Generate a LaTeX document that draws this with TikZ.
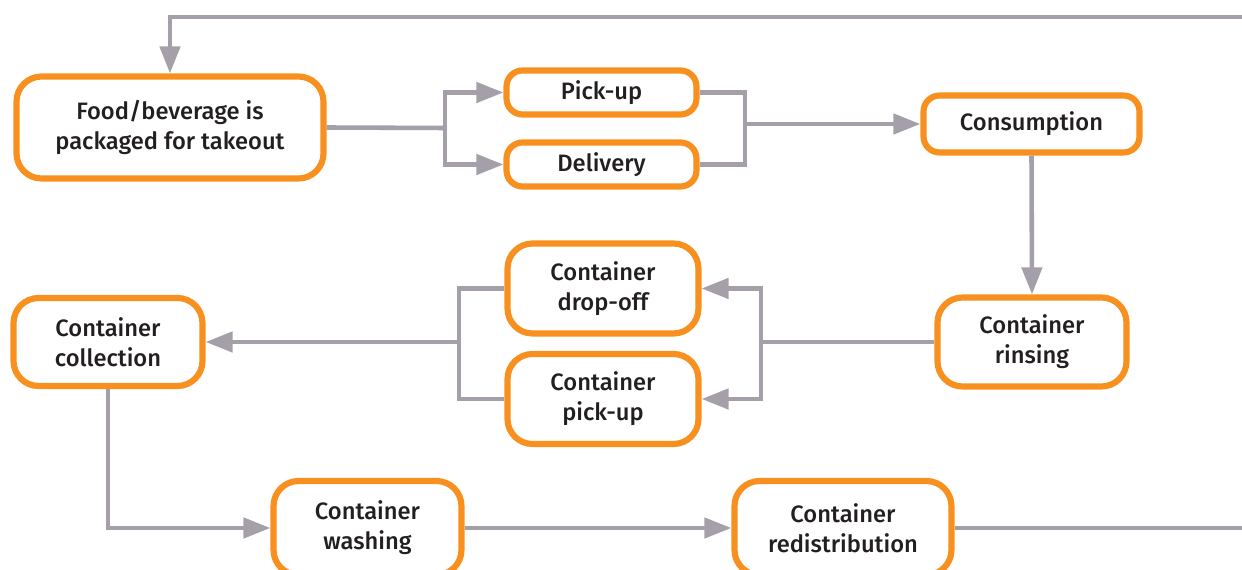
\documentclass[tikz,border=0pt]{standalone}
\usepackage{fontspec}
\setmainfont{Fira Sans}[UprightFont={* Medium}]
\usetikzlibrary{arrows.meta}
\definecolor{boxorange}{HTML}{F7901E}
\definecolor{linegray}{HTML}{A49FA9}
\definecolor{txt}{HTML}{231F20}
\tikzset{
  box/.style={draw=boxorange, line width=3.5pt, fill=white, rounded corners=0.5cm,
    align=center, text=txt, font=\fontsize{13.5pt}{17pt}\selectfont, inner sep=0pt},
  smallbox/.style={box, rounded corners=0.32cm},
  conn/.style={draw=linegray, line width=2.6pt},
  arr/.style={conn, -{Triangle[length=5.4mm, width=4mm]}}
}
\begin{document}
\begin{tikzpicture}[x=0.02cm, y=-0.02cm]
\useasboundingbox (0,0) rectangle (1242,570);
\clip (0,0) rectangle (1242,570);
% nodes
\node[box, minimum width=6.14cm, minimum height=2.04cm] (food) at (170,127.5) {Food/beverage is\\packaged for takeout};
\node[smallbox, minimum width=3.8cm, minimum height=0.88cm] (pickup) at (601.5,92.5) {Pick-up};
\node[smallbox, minimum width=3.8cm, minimum height=0.88cm] (delivery) at (601.5,164.5) {Delivery};
\node[smallbox, minimum width=4.32cm, minimum height=1.14cm] (cons) at (1031.5,124) {Consumption};
\node[box, minimum width=3.78cm, minimum height=1.78cm] (rinse) at (1032,342) {Container\\rinsing};
\node[box, minimum width=3.82cm, minimum height=1.8cm] (drop) at (603,288.5) {Container\\drop-off};
\node[box, minimum width=3.82cm, minimum height=1.8cm] (cpick) at (603,399) {Container\\pick-up};
\node[box, minimum width=3.78cm, minimum height=1.76cm] (coll) at (108,342) {Container\\collection};
\node[box, minimum width=3.76cm, minimum height=1.88cm] (wash) at (367.5,528) {Container\\washing};
\node[box, minimum width=4.34cm, minimum height=1.88cm] (redis) at (843,528) {Container\\redistribution};
% coordinates
\coordinate (topright) at (1260,17);
\coordinate (topleft) at (170,17);
\coordinate (j1) at (445,128);
\coordinate (j2) at (745,124);
\coordinate (j3) at (761,342);
\coordinate (j4) at (459,342);
\coordinate (botright) at (1260,528);
% connectors
\draw[arr] (topright) -- (topleft) -- (food.north);
\draw[conn] (food.east) -- (j1);
\draw[arr] (j1) |- (pickup.west);
\draw[arr] (j1) |- (delivery.west);
\draw[conn] (pickup.east) -| (j2);
\draw[conn] (delivery.east) -| (j2);
\draw[arr] (j2) -- (cons.west);
\draw[arr] (cons.south) -- (rinse.north);
\draw[conn] (rinse.west) -- (j3);
\draw[arr] (j3) |- (drop.east);
\draw[arr] (j3) |- (cpick.east);
\draw[conn] (drop.west) -| (j4);
\draw[conn] (cpick.west) -| (j4);
\draw[arr] (j4) -- (coll.east);
\draw[arr] (coll.south) |- (wash.west);
\draw[arr] (wash.east) -- (redis.west);
\draw[conn] (redis.east) -- (botright);
\end{tikzpicture}
\end{document}
